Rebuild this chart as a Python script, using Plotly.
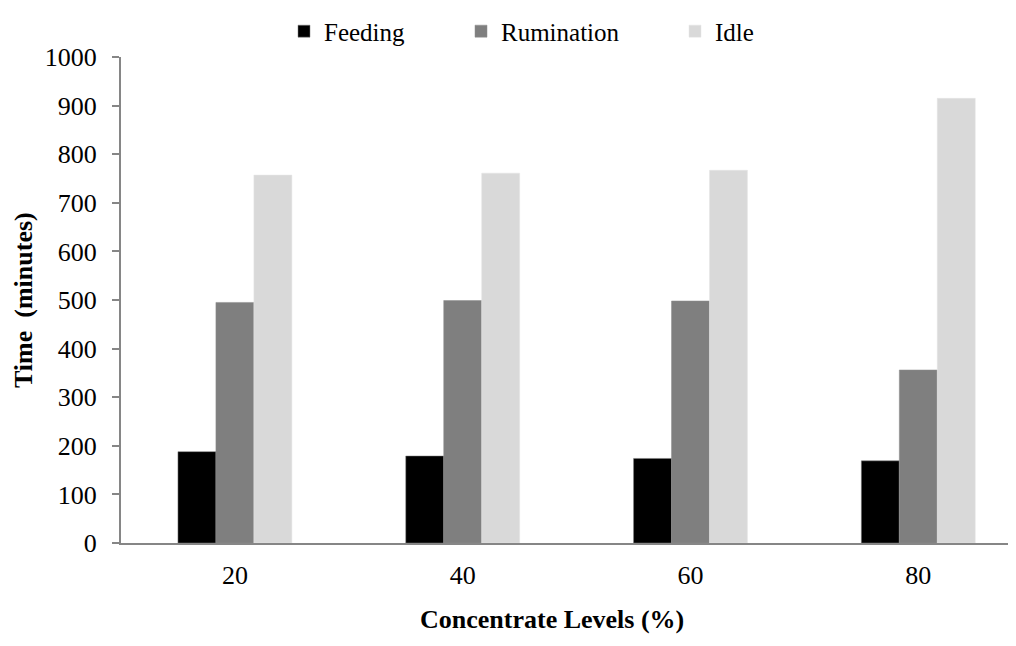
import plotly.graph_objects as go

categories = ["20", "40", "60", "80"]
feeding = [188, 179, 174, 169]
rumination = [495, 499, 498, 356]
idle = [757, 761, 767, 915]
y_ticks = [0, 100, 200, 300, 400, 500, 600, 700, 800, 900, 1000]

FONT = "Liberation Serif, serif"

# page has an 8px body margin; figure sized to fit without scrollbars
W, H = 1000, 630
L, T, B, R = 113, 42, 94.5, 0
PW = W - L - R
PH = H - T - B

fig = go.Figure()
fig.add_trace(go.Bar(name="Feeding", x=categories, y=feeding, legend="legend",
                     marker=dict(color="#000000", line=dict(color="#7f7f7f", width=0.5))))
fig.add_trace(go.Bar(name="Rumination", x=categories, y=rumination, legend="legend2",
                     marker=dict(color="#7f7f7f", line=dict(color="#8c8c8c", width=0.5))))
fig.add_trace(go.Bar(name="Idle", x=categories, y=idle, legend="legend3",
                     marker=dict(color="#d9d9d9", line=dict(color="#e4e4e4", width=0.5))))

def leg(px):
    return dict(x=(px - 8 - L) / PW, xanchor="left", y=1 + (T - 16) / PH, yanchor="middle",
                font=dict(family=FONT, size=25, color="black"), bgcolor="rgba(0,0,0,0)",
                borderwidth=0)

fig.update_layout(
    width=W, height=H,
    margin=dict(l=L, r=R, t=T, b=B),
    paper_bgcolor="white", plot_bgcolor="white",
    barmode="group", bargap=0.5, bargroupgap=0,
    font=dict(family=FONT, size=26, color="black"),
    showlegend=True,
    legend=leg(284), legend2=leg(461), legend3=leg(675),
    xaxis=dict(type="category", range=[-0.5, -0.5 + PW / 227.8], showline=True, linecolor="#868686", linewidth=2,
               ticks="outside", ticklen=8, tickcolor="rgba(0,0,0,0)", showgrid=False,
               tickfont=dict(family=FONT, size=26)),
    yaxis=dict(range=[0, 1000], tickvals=y_ticks, showline=True, linecolor="#868686", linewidth=2,
               ticks="outside", ticklen=7, tickcolor="#868686", tickwidth=2, showgrid=False, zeroline=False,
               ticklabelstandoff=10,
               tickfont=dict(family=FONT, size=26), automargin=False),
)
fig.add_annotation(text="<b>Time  (minutes)</b>", textangle=-90, x=(15 - L) / PW, xref="paper", xanchor="center",
                   y=0.5, yref="paper", yanchor="middle", showarrow=False, font=dict(family=FONT, size=26))
fig.add_annotation(text="<b>Concentrate Levels (%)</b>", x=(544 - L) / PW, xref="paper", xanchor="center",
                   y=-(H - 1 - (H - B)) / PH, yref="paper", yanchor="bottom", showarrow=False,
                   borderpad=0, font=dict(family=FONT, size=26))

fig.write_html("out.html")
